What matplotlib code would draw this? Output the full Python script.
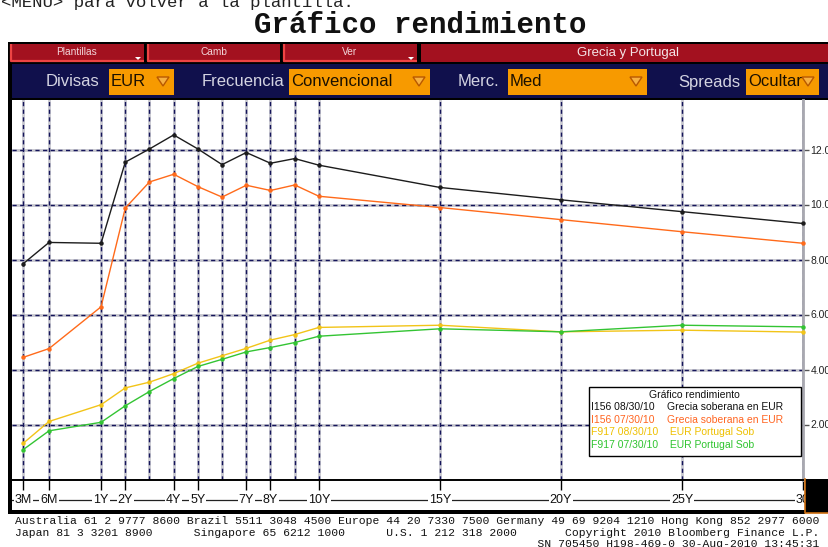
import numpy as np
import matplotlib
matplotlib.use("Agg")
import matplotlib.pyplot as plt
from matplotlib.patches import Rectangle, Polygon

# ---------------- data ----------------
tenor_labels = ['3M', '6M', '1Y', '2Y', '3Y', '4Y', '5Y', '6Y', '7Y', '8Y', '9Y', '10Y', '15Y', '20Y', '25Y', '30Y']
tenor_years = [0.25, 0.5, 1, 2, 3, 4, 5, 6, 7, 8, 9, 10, 15, 20, 25, 30]
shown_tick_years = [0.25, 0.5, 1, 2, 4, 5, 7, 8, 10, 15, 20, 25, 30]
shown_tick_labels = ['3M', '6M', '1Y', '2Y', '4Y', '5Y', '7Y', '8Y', '10Y', '15Y', '20Y', '25Y', '30']

greece_0830 = [7.84, 8.62, 8.59, 11.54, 12.02, 12.53, 12.02, 11.45, 11.89, 11.50, 11.67, 11.43, 10.62, 10.17, 9.74, 9.31]
greece_0730 = [4.44, 4.76, 6.28, 9.87, 10.82, 11.10, 10.65, 10.27, 10.70, 10.51, 10.71, 10.30, 9.89, 9.45, 9.01, 8.59]
portugal_0830 = [1.31, 2.11, 2.72, 3.33, 3.54, 3.85, 4.23, 4.50, 4.77, 5.07, 5.27, 5.53, 5.61, 5.37, 5.43, 5.36]
portugal_0730 = [1.08, 1.77, 2.08, 2.68, 3.20, 3.67, 4.11, 4.37, 4.64, 4.80, 4.98, 5.21, 5.48, 5.37, 5.61, 5.55]

y_ticks = [2, 4, 6, 8, 10, 12]
grid_y = [0, 2, 4, 6, 8, 10, 12]

legend_rows = [
    ("I156 08/30/10", "Grecia soberana en EUR", "#111111"),
    ("I156 07/30/10", "Grecia soberana en EUR", "#FF6420"),
    ("F917 08/30/10", " EUR Portugal Sob", "#EEC000"),
    ("F917 07/30/10", " EUR Portugal Sob", "#2EC42E"),
]

C_BLACK = "#1c1c1c"
C_ORANGE = "#FF6A1A"
C_YELLOW = "#F2C418"
C_GREEN = "#33C433"
NAVY = "#10104C"
RED = "#A3111F"
RED_EDGE = "#EE4444"
ORANGE_BOX = "#F79A00"

W, H, DPI = 829, 547, 100
fig = plt.figure(figsize=(W / DPI, H / DPI), dpi=DPI)

# ---------------- background / decoration axes (pixel coords) ----------------
bg = fig.add_axes([0, 0, 1, 1], zorder=-1)
bg.set_xlim(0, W)
bg.set_ylim(H, 0)
bg.axis("off")
bg.add_patch(Rectangle((0, 0), W, H, facecolor="white", edgecolor="none"))

bg.text(1, 7.5, "<MENU> para volver a la plantilla.", family="Liberation Mono",
        fontsize=12.5, color="#222222", va="baseline", ha="left")
bg.text(420, 33, "Gráfico rendimiento", family="Liberation Mono", weight="bold",
        fontsize=21, color="#111111", va="baseline", ha="center")

# black frame band
bg.add_patch(Rectangle((8, 42), W - 8, 58, facecolor="black", edgecolor="none"))
# red buttons
for (x0, x1, label, tri) in [(10, 144, "Plantillas", True), (147, 280, "Camb", False), (283, 417, "Ver", True)]:
    bg.add_patch(Rectangle((x0, 44), x1 - x0, 18, facecolor=RED, edgecolor="none"))
    bg.plot([x0 + 1, x0 + 1, x1], [44, 61, 61], color=RED_EDGE, lw=1.6, solid_capstyle="butt")
    bg.text((x0 + x1) / 2, 52, label, color="#F2D6DA", fontsize=7.3, family="Liberation Sans",
            ha="center", va="center")
    if tri:
        bg.add_patch(Polygon([[x1 - 9, 57], [x1 - 3, 57], [x1 - 6, 60]], closed=True,
                             facecolor="white", edgecolor="none"))
bg.add_patch(Rectangle((421, 44), W - 421, 18, facecolor=RED, edgecolor="none"))
bg.text(628, 53, "Grecia y Portugal", color="#F4E4E6", fontsize=9.5, family="Liberation Sans",
        ha="center", va="center")

# navy selector row
bg.add_patch(Rectangle((10, 64), W - 10, 34, facecolor=NAVY, edgecolor="none"))
for (lx, ltxt, bx0, bx1, btxt) in [(99, "Divisas", 109, 174, "EUR"),
                                     (284, "Frecuencia", 289, 430, "Convencional"),
                                     (499, "Merc.", 508, 647, "Med"),
                                     (740, "Spreads", 746, 819, "Ocultar")]:
    bg.text(lx, 82, ltxt, color="#D4D4E2", fontsize=12, family="Liberation Sans",
            ha="right", va="center")
    bg.add_patch(Rectangle((bx0, 69), bx1 - bx0, 26, facecolor=ORANGE_BOX, edgecolor="none"))
    bg.text(bx0 + 2, 82, btxt, color="#1a1000", fontsize=12, family="Liberation Sans",
            ha="left", va="center", clip_on=True)
    bg.add_patch(Polygon([[bx1 - 17, 77], [bx1 - 5, 77], [bx1 - 11, 86]], closed=True,
                         facecolor="#F7B040", edgecolor="#B85800", lw=1))

# left and bottom frame
bg.add_patch(Rectangle((8, 42), 4, 472, facecolor="black", edgecolor="none"))
bg.add_patch(Rectangle((8, 510), 797, 4, facecolor="black", edgecolor="none"))
# line through x labels
bg.plot([12, 805], [500, 500], color="#222222", lw=0.9)

# footer
footer = [
    "Australia 61 2 9777 8600 Brazil 5511 3048 4500 Europe 44 20 7330 7500 Germany 49 69 9204 1210 Hong Kong 852 2977 6000",
    "Japan 81 3 3201 8900      Singapore 65 6212 1000      U.S. 1 212 318 2000       Copyright 2010 Bloomberg Finance L.P.",
    "                                                                            SN 705450 H198-469-0 30-Aug-2010 13:45:31",
]
for i, line in enumerate(footer):
    bg.text(15, 521 + 11.5 * i, line, family="Liberation Mono", fontsize=8.2,
            color="#111111", ha="left", va="center")

# ---------------- main plot axes ----------------
def fwd(t):
    t = np.asarray(t, dtype=float)
    return np.where(t <= 1, 4.3 * t, 4.3 + (t - 1))


def inv(u):
    u = np.asarray(u, dtype=float)
    return np.where(u <= 4.3, u / 4.3, 1 + (u - 4.3))


left_px, right_px, top_px, bot_px = 12, 803, 100, 479.5
ax = fig.add_axes([left_px / W, 1 - bot_px / H, (right_px - left_px) / W, (bot_px - top_px) / H])
ax.set_xscale("function", functions=(fwd, inv))
ax.set_xlim(0.1443, 30)
ax.set_ylim(0, 13.8)
ax.set_facecolor("white")

for t in tenor_years:
    ax.axvline(t, color="#C6C6CE", lw=2.0, zorder=1)
    ax.axvline(t, color="#14145A", lw=1.0, ls=(0, (3, 2.5)), zorder=1.1)
for yv in grid_y:
    ax.axhline(yv, color="#C6C6CE", lw=2.0, zorder=1)
    ax.axhline(yv, color="#14145A", lw=1.0, ls=(0, (3, 2.5)), zorder=1.1)

for series, col in [(greece_0830, C_BLACK), (greece_0730, C_ORANGE),
                    (portugal_0830, C_YELLOW), (portugal_0730, C_GREEN)]:
    ax.plot(tenor_years, series, color=col, lw=1.0, marker="o", ms=2.2, zorder=3, clip_on=False)

for s in ["top", "left"]:
    ax.spines[s].set_visible(False)
ax.spines["bottom"].set_color("black")
ax.spines["bottom"].set_linewidth(1.4)
ax.spines["right"].set_color("#A8A8B0")
ax.spines["right"].set_linewidth(2.0)

ax.set_xticks(shown_tick_years)
ax.set_xticklabels(shown_tick_labels)
ax.xaxis.set_minor_locator(matplotlib.ticker.NullLocator())
ax.tick_params(axis="x", direction="out", length=7, width=1, color="black", pad=3.5,
               labelsize=9, labelcolor="#111111")
for lab in ax.get_xticklabels():
    lab.set_family("Liberation Sans")
    lab.set_bbox(dict(facecolor="white", edgecolor="none", pad=0.6))

ax.yaxis.tick_right()
ax.set_yticks(y_ticks)
ax.set_yticklabels([f"{v:.2f}" for v in y_ticks])
ax.tick_params(axis="y", direction="out", length=4, width=1, color="#555555", pad=1.5,
               labelsize=7.5, labelcolor="#222222")
for lab in ax.get_yticklabels():
    lab.set_family("Liberation Sans")

# ---------------- overlay (legend, corner box) ----------------
ov = fig.add_axes([0, 0, 1, 1], zorder=5)
ov.set_xlim(0, W)
ov.set_ylim(H, 0)
ov.axis("off")
ov.patch.set_alpha(0)

ov.add_patch(Rectangle((589, 387), 212, 69, facecolor="white", edgecolor="black", lw=1.0))
ov.text(694, 395, "Gráfico rendimiento", fontsize=7.5, family="Liberation Sans",
        color="#111111", ha="center", va="center")
for i, (c1, c2, col) in enumerate(legend_rows):
    yy = 407 + 12.7 * i
    ov.text(591, yy, c1, fontsize=7.5, family="Liberation Sans", color=col, ha="left", va="center")
    ov.text(667, yy, c2, fontsize=7.5, family="Liberation Sans", color=col, ha="left", va="center")

ov.add_patch(Rectangle((805, 479), 24, 34, facecolor="black", edgecolor="none"))
ov.plot([805.5, 805.5, 829], [479, 512.5, 512.5], color="#D07010", lw=1.2)

fig.savefig("out.png", dpi=DPI)
